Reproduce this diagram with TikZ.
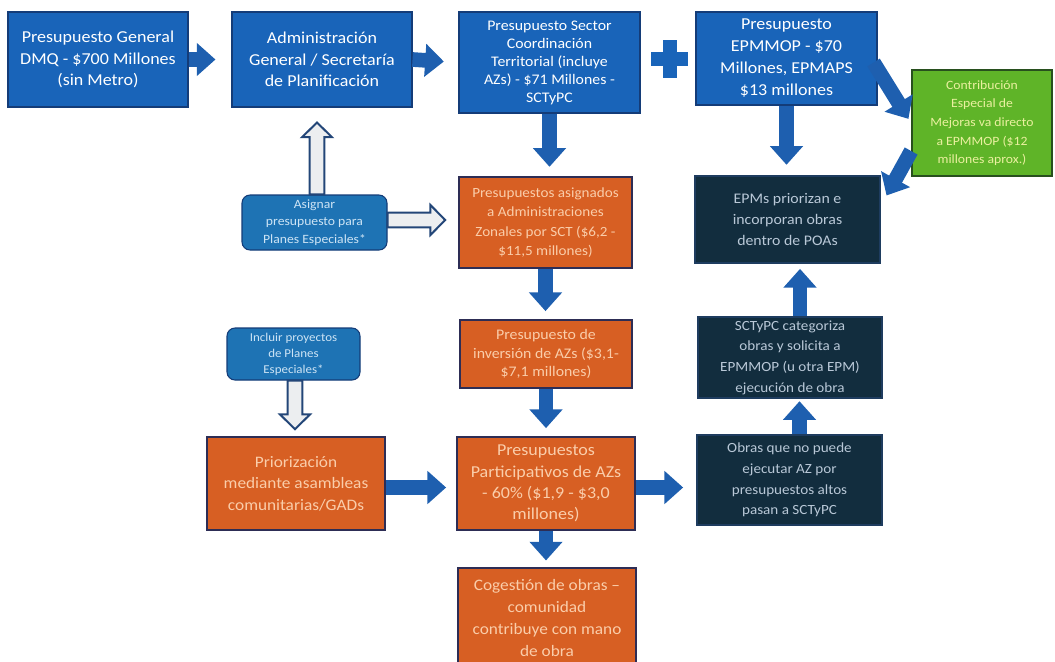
\documentclass[tikz,border=0pt]{standalone}
\usepackage{fontspec}
\setmainfont{Carlito}[FakeStretch=1.08]
\usetikzlibrary{arrows.meta,calc}
\definecolor{boxblue}{RGB}{25,100,185}
\definecolor{blueborder}{RGB}{20,60,120}
\definecolor{arrowblue}{RGB}{30,95,175}
\definecolor{roundblue}{RGB}{30,115,180}
\definecolor{orangefill}{RGB}{215,95,35}
\definecolor{orangeborder}{RGB}{45,45,85}
\definecolor{darkfill}{RGB}{18,45,62}
\definecolor{darkborder}{RGB}{30,60,95}
\definecolor{greenfill}{RGB}{95,180,40}
\definecolor{greenborder}{RGB}{40,80,30}
\definecolor{orangetext}{RGB}{250,205,170}
\definecolor{darktext}{RGB}{185,200,215}
\definecolor{greentext}{RGB}{235,240,160}
\definecolor{roundtext}{RGB}{205,228,245}
\definecolor{hollowfill}{RGB}{236,238,240}
\definecolor{hollowborder}{RGB}{35,70,120}
\newcommand\hollowarrow[2]{%
  \path (#1) coordinate (ha) (#2) coordinate (hb);
  \path ($(hb)!11pt!(ha)$) coordinate (hc);
  \draw[hollow] ($(ha)!5.6pt!90:(hb)$) -- ($(hc)!5.6pt!-90:(ha)$) -- ($(hc)!11.25pt!-90:(ha)$) -- (hb)
    -- ($(hc)!11.25pt!90:(ha)$) -- ($(hc)!5.6pt!90:(ha)$) -- ($(ha)!5.6pt!-90:(hb)$) -- cycle;}
\begin{document}
\begin{tikzpicture}[x=0.75pt,y=-0.75pt,
  box/.style={rectangle, inner sep=0pt, align=center, line width=0.8pt},
  bluebox/.style={box, fill=boxblue, draw=blueborder, text=white},
  roundbox/.style={box, fill=roundblue, draw=blueborder, text=roundtext, rounded corners=6pt},
  orangebox/.style={box, fill=orangefill, draw=orangeborder, line width=1.3pt, text=orangetext},
  darkbox/.style={box, fill=darkfill, draw=darkborder, text=darktext},
  greenbox/.style={box, fill=greenfill, draw=greenborder, line width=1.3pt, text=greentext},
  barrow/.style={draw=arrowblue, line width=11pt, -{Triangle[width=24pt,length=14pt]}},
  hollow/.style={draw=hollowborder, line width=1.5pt, fill=hollowfill, line join=miter}]
\useasboundingbox (0,0) rectangle (1055,661);

\node[bluebox, minimum width=135pt, minimum height=71.25pt, font=\fontsize{12.5}{16}\selectfont] (b1) at (98,59.5)
  {Presupuesto General\\DMQ - \$700 Millones\\(sin Metro)};
\node[bluebox, minimum width=135pt, minimum height=71.25pt, font=\fontsize{12.5}{16}\selectfont] (b2) at (322,59.5)
  {Administración\\General / Secretaría\\de Planificación};
\node[bluebox, minimum width=135.75pt, minimum height=75.75pt, font=\fontsize{11}{13.5}\selectfont] (b3) at (549.5,62.5)
  {Presupuesto Sector\\Coordinación\\Territorial (incluye\\AZs) - \$71 Millones -\\SCTyPC};
\node[bluebox, minimum width=135.75pt, minimum height=69.75pt, font=\fontsize{12.5}{16.5}\selectfont] (b4) at (786.5,58.5)
  {Presupuesto\\EPMMOP - \$70\\Millones, EPMAPS\\\$13 millones};
\node[greenbox, minimum width=105pt, minimum height=79.5pt, font=\fontsize{9.5}{14}\selectfont] (g) at (982,123)
  {Contribución\\Especial de\\Mejoras va directo\\a EPMMOP (\$12\\millones aprox.)};
\node[roundbox, minimum width=108.75pt, minimum height=41.25pt, font=\fontsize{9.5}{13}\selectfont] (r1) at (314.5,222.5)
  {Asignar\\presupuesto para\\Planes Especiales*};
\node[orangebox, minimum width=129.75pt, minimum height=68.25pt, font=\fontsize{10.5}{14.5}\selectfont] (o1) at (545.5,222.5)
  {Presupuestos asignados\\a Administraciones\\Zonales por SCT (\$6,2 -\\\$11,5 millones)};
\node[darkbox, minimum width=138.75pt, minimum height=65.25pt, font=\fontsize{11}{16}\selectfont] (d1) at (787.5,219.5)
  {EPMs priorizan e\\incorporan obras\\dentro de POAs};
\node[roundbox, minimum width=99.75pt, minimum height=39pt, font=\fontsize{9}{12}\selectfont] (r2) at (293.5,354)
  {Incluir proyectos\\de Planes\\Especiales*};
\node[orangebox, minimum width=129pt, minimum height=51pt, font=\fontsize{11}{14}\selectfont] (o2) at (546,354)
  {Presupuesto de\\inversión de AZs (\$3,1-\\\$7,1 millones)};
\node[darkbox, minimum width=138pt, minimum height=60.75pt, font=\fontsize{10.5}{15.5}\selectfont] (d2) at (790,357.5)
  {SCTyPC categoriza\\obras y solicita a\\EPMMOP (u otra EPM)\\ejecución de obra};
\node[orangebox, minimum width=133.5pt, minimum height=69.75pt, font=\fontsize{12}{16}\selectfont] (o4) at (296,483.5)
  {Priorización\\mediante asambleas\\comunitarias/GADs};
\node[orangebox, minimum width=133.5pt, minimum height=69.75pt, font=\fontsize{12.5}{16}\selectfont] (o3) at (546,483.5)
  {Presupuestos\\Participativos de AZs\\- 60\% (\$1,9 - \$3,0\\millones)};
\node[darkbox, minimum width=138.75pt, minimum height=67.5pt, font=\fontsize{10.5}{15.5}\selectfont] (d3) at (789.5,480)
  {Obras que no puede\\ejecutar AZ por\\presupuestos altos\\pasan a SCTyPC};
\node[orangebox, minimum width=133.5pt, minimum height=75pt, font=\fontsize{12}{16.5}\selectfont] (o5) at (547,618)
  {Cogestión de obras –\\comunidad\\contribuye con mano\\de obra};

% plus sign
\fill[boxblue] (651,52) rectangle (688,66);
\fill[boxblue] (662.5,40) rectangle (676.5,78);

% solid arrows
\draw[barrow, shorten >=12pt] (b1.east) -- (b2.west);
\draw[barrow, shorten >=11pt] (b2.east) -- (b3.west);
\draw[barrow, shorten >=7pt] (b3.south) -- (b3.south |- o1.north);
\draw[barrow, shorten >=8pt] (b4.south) -- (b4.south |- d1.north);
\draw[barrow, shorten >=1pt] ($(b4.east)+(-4,4)$) -- ($(g.west)+(-2,-3)$);
\draw[barrow] ($(g.west)+(0,28)$) -- ($(d1.north east)+(6,20)$);
\draw[barrow, shorten >=6pt] (o1.south) -- (o1.south |- o2.north);
\draw[barrow, shorten >=6pt] (o2.south) -- (o2.south |- o3.north);
\draw[barrow, shorten >=7.5pt] ($(o4.east)+(0,4)$) -- ($(o4.east -| o3.west)+(0,4)$);
\draw[barrow, shorten >=10pt] ($(o3.east)+(0,4)$) -- ($(o3.east -| d3.west)+(0,4)$);
\draw[barrow, shorten >=5pt] (o3.south) -- (o3.south |- o5.north);
\draw[barrow, shorten >=2pt] ($(d3.north)+(10,0)$) -- ($(d3.north |- d2.south)+(10,0)$);
\draw[barrow, shorten >=4pt] ($(d2.north)+(10,0)$) -- ($(d2.north |- d1.south)+(10,0)$);

% hollow arrows
\hollowarrow{$(r1.north)+(2.5,0)$}{$(r1.north |- b2.south)+(2.5,15)$}
\hollowarrow{$(r1.east)+(0,-2.5)$}{$(r1.east -| o1.west)+(-13,-2.5)$}
\hollowarrow{$(r2.south)+(1.5,0)$}{$(r2.south |- o4.north)+(1.5,-7)$}
\end{tikzpicture}
\end{document}
